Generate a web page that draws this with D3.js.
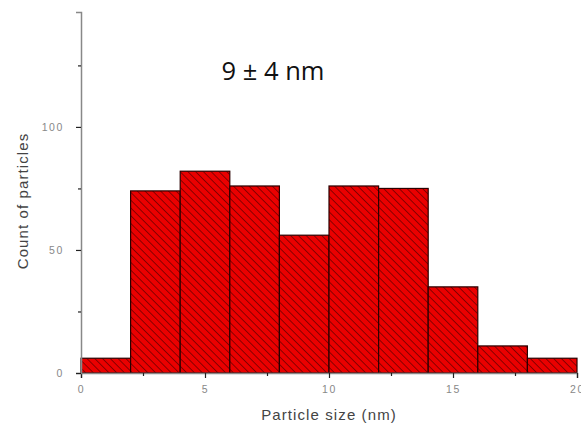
<!DOCTYPE html>
<html><head><meta charset="utf-8">
<script src="https://cdn.jsdelivr.net/npm/d3@7"></script>
<style>body{margin:0;background:#fff}svg{display:block}</style>
</head><body>
<script>
const binStarts = [0, 2, 4, 6, 8, 10, 12, 14, 16, 18];
const binWidth = 2;
const counts = [6, 74, 82, 76, 56, 76, 75, 35, 11, 6];
const xTicks = [0, 5, 10, 15, 20];
const yTicks = [0, 50, 100];
const title = "9 ± 4 nm";
const xLabel = "Particle size (nm)";
const yLabel = "Count of particles";

const W = 581, H = 432;
const svg = d3.select("body").append("svg").attr("width", W).attr("height", H);
const x = d3.scaleLinear().domain([0, 20]).range([81, 577]);
const y = d3.scaleLinear().domain([0, 146.7]).range([373, 12]);

const defs = svg.append("defs");
const pat = defs.append("pattern").attr("id", "hatch").attr("patternUnits", "userSpaceOnUse")
  .attr("width", 5.5).attr("height", 5.5).attr("patternTransform", "rotate(-45)");
pat.append("rect").attr("width", 5.5).attr("height", 5.5).attr("fill", "#ea0000");
pat.append("line").attr("x1", 0).attr("y1", 0).attr("x2", 0).attr("y2", 5.5)
  .attr("stroke", "#600000").attr("stroke-width", 1.4);

svg.append("g").selectAll("rect").data(binStarts).join("rect")
  .attr("x", (d) => x(d))
  .attr("y", (d, i) => y(counts[i]))
  .attr("width", (d) => x(d + binWidth) - x(d))
  .attr("height", (d, i) => y(0) - y(counts[i]))
  .attr("fill", "url(#hatch)")
  .attr("stroke", "#2a0000").attr("stroke-width", 1.2);

// axes
const gx = svg.append("g").attr("transform", `translate(0,${y(0)})`);
gx.call(d3.axisBottom(x).tickValues(xTicks).tickSize(5).tickPadding(8).tickFormat(d3.format("d")));
const gxm = svg.append("g").attr("transform", `translate(0,${y(0)})`);
gxm.call(d3.axisBottom(x).tickValues([2.5, 7.5, 12.5, 17.5]).tickSize(3).tickFormat(""));
gxm.select(".domain").remove();

const gy = svg.append("g").attr("transform", `translate(${x(0)},0)`);
gy.call(d3.axisLeft(y).tickValues(yTicks).tickSize(5).tickPadding(12).tickFormat(d3.format("d")));
const gym = svg.append("g").attr("transform", `translate(${x(0)},0)`);
gym.call(d3.axisLeft(y).tickValues([25, 75, 125]).tickSize(3).tickFormat(""));
gym.select(".domain").remove();

[gx, gy].forEach(g => {
  g.select(".domain").attr("stroke", "#888").attr("stroke-width", 1.5);
  g.selectAll("text").attr("fill", "#888").attr("font-family", "Liberation Sans, Arial, sans-serif")
    .attr("font-size", 10.5).style("letter-spacing", "1.6px");
});
svg.selectAll(".tick line").attr("stroke", "#222").attr("stroke-width", 1.2);

svg.append("text").attr("x", 329).attr("y", 420).attr("text-anchor", "middle")
  .attr("font-family", "Liberation Sans, Arial, sans-serif").attr("font-size", 15)
  .attr("fill", "#444").style("letter-spacing", "1.1px").text(xLabel);
svg.append("text").attr("transform", "translate(28,201) rotate(-90)").attr("text-anchor", "middle")
  .attr("font-family", "Liberation Sans, Arial, sans-serif").attr("font-size", 15)
  .attr("fill", "#444").style("letter-spacing", "1.1px").text(yLabel);
svg.append("text").attr("x", 273).attr("y", 80).attr("text-anchor", "middle")
  .attr("font-family", "Open Sans, Noto Sans, sans-serif").attr("font-size", 25.5)
  .attr("fill", "#111").text(title);
</script>
</body></html>
